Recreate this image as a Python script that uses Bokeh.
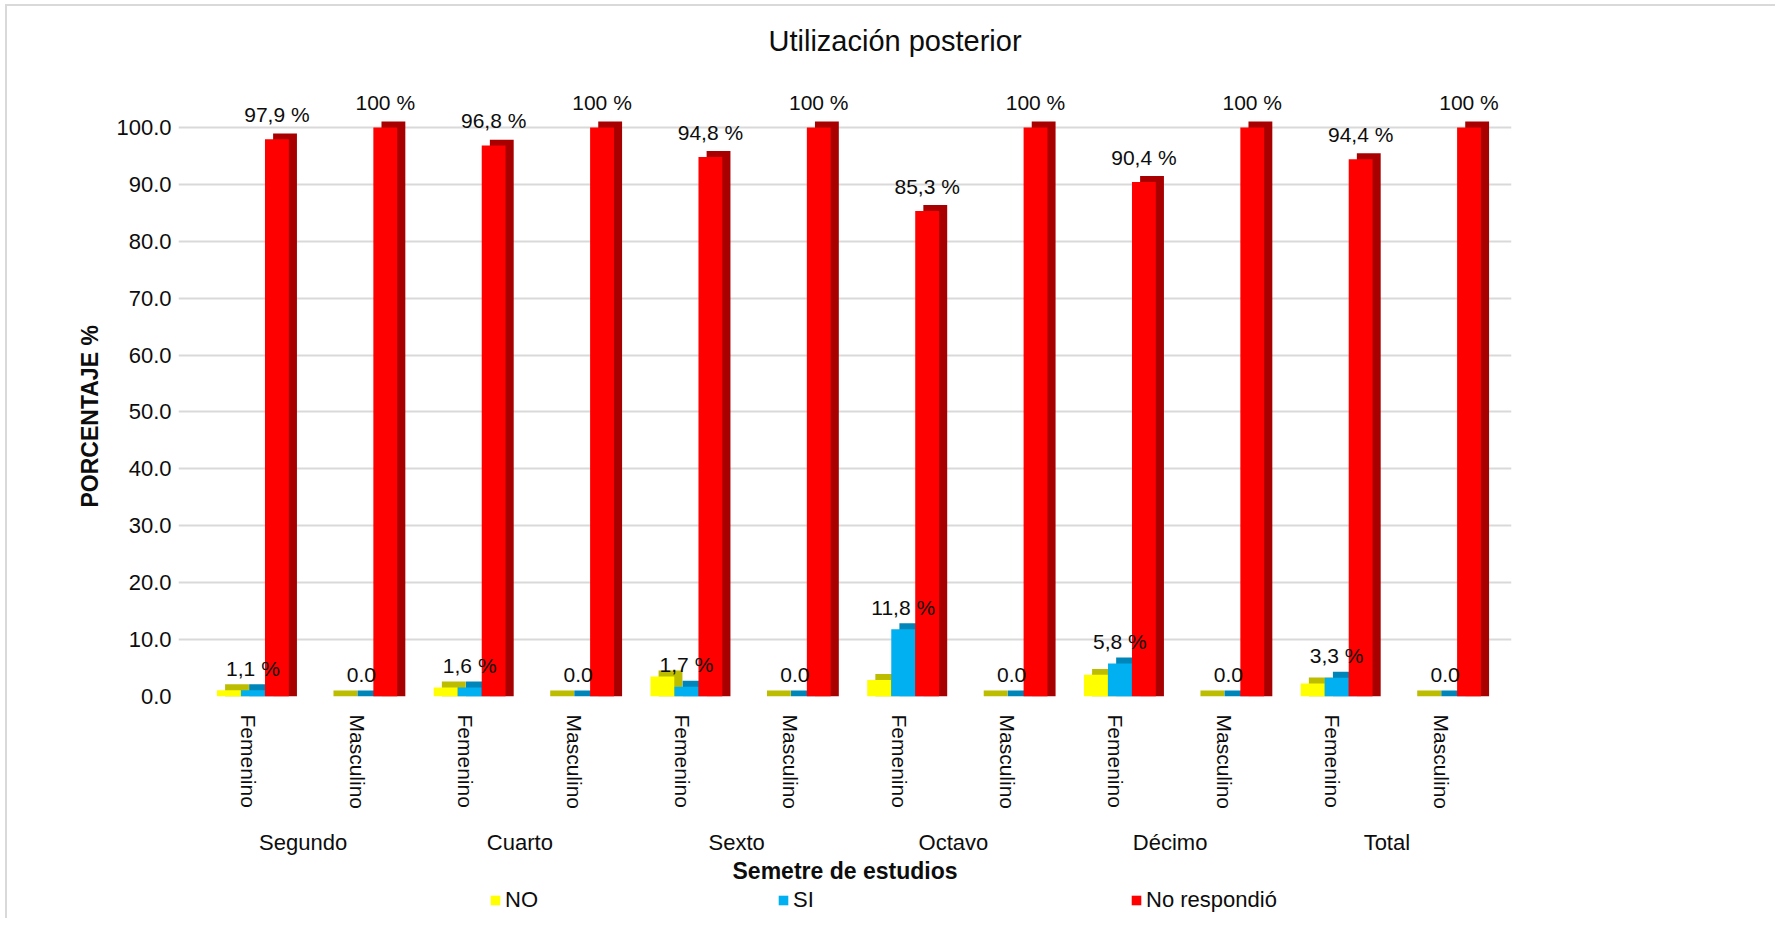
import math
from bokeh.plotting import figure
from bokeh.layouts import column
from bokeh.models import (FactorRange, Range1d, ColumnDataSource, FixedTicker,
                          PrintfTickFormatter, Legend, LegendItem, Title)
from bokeh.transform import dodge
from bokeh.core.properties import value
from bokeh.embed import file_html
from bokeh.resources import INLINE

# ---------------- data ----------------
semestres = ["Segundo", "Cuarto", "Sexto", "Octavo", "Décimo", "Total"]
sexos = ["Femenino", "Masculino"]
no_vals = [1.1, 0.0, 1.6, 0.0, 3.5, 0.0, 2.9, 0.0, 3.8, 0.0, 2.3, 0.0]
si_vals = [1.1, 0.0, 1.6, 0.0, 1.7, 0.0, 11.8, 0.0, 5.8, 0.0, 3.3, 0.0]
nr_vals = [97.9, 100.0, 96.8, 100.0, 94.8, 100.0, 85.3, 100.0, 90.4, 100.0, 94.4, 100.0]
si_labels = ["1,1 %", "0.0", "1,6 %", "0.0", "1,7 %", "0.0",
             "11,8 %", "0.0", "5,8 %", "0.0", "3,3 %", "0.0"]
nr_labels = ["97,9 %", "100 %", "96,8 %", "100 %", "94,8 %", "100 %",
             "85,3 %", "100 %", "90,4 %", "100 %", "94,4 %", "100 %"]
y_ticks = [0, 10, 20, 30, 40, 50, 60, 70, 80, 90, 100]
series_names = ["NO", "SI", "No respondió"]

# ---------------- styles ----------------
FONT = "Liberation Sans"
TXT = "#0d0d0d"
front_cols = ["#ffff00", "#00b0f0", "#ff0000"]
side_cols = ["#bcbc00", "#0085b8", "#a80000"]
offsets = [-0.185, 0.037, 0.258]
BW = 0.22
DX = 0.075
DY = 1.05

factors = [(s, x) for s in semestres for x in sexos]
src = ColumnDataSource(dict(
    x=factors,
    no=no_vals, si=si_vals, nr=nr_vals,
    no_b=[v + DY for v in no_vals],
    si_b=[v + DY for v in si_vals],
    nr_b=[v + DY for v in nr_vals],
    si_lab=si_labels, nr_lab=nr_labels,
))

W, H1, H2 = 1768, 881, 31
xr = FactorRange(*factors, factor_padding=0, group_padding=0, range_padding=0.025)
p = figure(
    x_range=xr,
    y_range=Range1d(0, 110),
    width=W, height=H1,
    output_backend="svg", toolbar_location=None,
    min_border_left=171, min_border_right=264,
    min_border_top=64, min_border_bottom=190,
    title="Utilización posterior",
)

p.title.text_font = FONT
p.title.text_font_size = "29px"
p.title.text_font_style = "normal"
p.title.text_color = TXT
p.title.align = "left"
p.title.offset = 590
p.title.standoff = 28

p.outline_line_color = None
p.background_fill_color = "white"
p.border_fill_color = "white"

# grid
p.xgrid.grid_line_color = None
p.ygrid.grid_line_color = "#d9d9d9"
p.ygrid.grid_line_width = 2
p.yaxis.ticker = FixedTicker(ticks=y_ticks)
p.yaxis.formatter = PrintfTickFormatter(format="%.1f")

# axes
for ax in (p.xaxis[0], p.yaxis[0]):
    ax.axis_line_color = None
    ax.major_tick_line_color = None
    ax.minor_tick_line_color = None
    ax.major_tick_out = 0
    ax.major_tick_in = 0
    ax.minor_tick_out = 0
    ax.major_label_text_font = FONT
    ax.major_label_text_color = TXT

p.yaxis.major_label_text_font_size = "22px"
p.yaxis.major_label_standoff = 7

xa = p.xaxis[0]
xa.major_label_orientation = "vertical"
xa.major_label_text_font_size = "21px"
xa.major_label_standoff = 18
xa.group_text_font = FONT
xa.group_text_font_size = "22px"
xa.group_text_color = TXT
xa.group_text_font_style = "normal"
xa.separator_line_color = None
xa.axis_label = "Semetre de estudios"
xa.axis_label_text_font = FONT
xa.axis_label_text_font_size = "23px"
xa.axis_label_text_font_style = "bold"
xa.axis_label_text_color = TXT
xa.axis_label_standoff = 0

# bars (back "depth" face first, then front face)
cols = ["no", "si", "nr"]
for c, off, sc in zip(cols, offsets, side_cols):
    p.vbar(x=dodge("x", off + DX, range=xr), top=c + "_b", bottom=0,
           width=BW, source=src, fill_color=sc, line_color=None)
for c, off, fc in zip(cols, offsets, front_cols):
    p.vbar(x=dodge("x", off, range=xr), top=c, bottom=0,
           width=BW, source=src, fill_color=fc, line_color=None)

# data labels
p.text(x=dodge("x", offsets[1], range=xr), y="si", text="si_lab", source=src,
       text_font=value(FONT), text_font_size="21px", text_color=TXT,
       text_align="center", text_baseline="middle", y_offset=-22)
p.text(x=dodge("x", offsets[2], range=xr), y="nr", text="nr_lab", source=src,
       text_font=value(FONT), text_font_size="21px", text_color=TXT,
       text_align="center", text_baseline="middle", y_offset=-25)

# y-axis title as a side title on the left
ytitle = Title(text="PORCENTAJE %", align="left", offset=189, standoff=22,
               text_font=FONT, text_font_size="23px", text_font_style="bold",
               text_color=TXT)
p.add_layout(ytitle, "left")

# ---------------- legend strip ----------------
p2 = figure(width=W, height=H2, output_backend="svg", toolbar_location=None,
            x_range=xr, y_range=Range1d(0, 1),
            x_axis_location=None, y_axis_location=None,
            min_border_left=0, min_border_right=0,
            min_border_top=0, min_border_bottom=0)
p2.outline_line_color = None
p2.xgrid.grid_line_color = None
p2.ygrid.grid_line_color = None
p2.border_fill_color = "white"

leg_x = [311, 599, 952]
for name, c, fc, lx in zip(series_names, cols, front_cols, leg_x):
    # zero-height bars (below the strip's visible range): they only provide the swatch
    r = p2.vbar(x="x", top=0, bottom=0, width=BW, source=src,
                fill_color=fc, line_color=None)
    lg = Legend(items=[LegendItem(label=name, renderers=[r])],
                location=(lx, 5), orientation="horizontal",
                glyph_width=12, glyph_height=12, label_standoff=4,
                padding=0, margin=0, spacing=0,
                label_text_font=FONT, label_text_font_size="22px",
                label_text_color=TXT, border_line_alpha=0,
                background_fill_alpha=0)
    p2.add_layout(lg, "center")

layout = column(p, p2, spacing=0,
                styles={"margin-top": "4px", "margin-left": "5px",
                        "border-top": "2px solid #d9d9d9",
                        "border-left": "2px solid #d9d9d9"})

open("out.html", "w").write(file_html(layout, INLINE))
